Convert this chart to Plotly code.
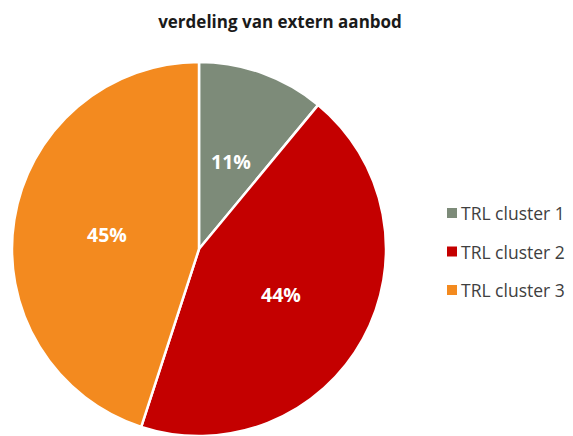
import math
import plotly.graph_objects as go

# Share of external supply per TRL cluster
categories = ["TRL cluster 1", "TRL cluster 2", "TRL cluster 3"]
shares = [11, 44, 45]
colors = ["#7d8b79", "#c40000", "#f38a1f"]

title_text = "verdeling van extern aanbod"
font_family = "Open Sans, Lato, sans-serif"

W, H = 573, 436
pie_left, pie_right, pie_top = 12, 386, 62

fig = go.Figure(
    go.Pie(
        labels=categories,
        values=shares,
        sort=False,
        direction="clockwise",
        rotation=0,
        marker=dict(colors=colors, line=dict(color="white", width=2.5)),
        textinfo="none",
        domain=dict(x=[pie_left / W, pie_right / W], y=[0, (H - pie_top) / H]),
        showlegend=False,
        hoverinfo="label+percent",
    )
)

# Percentage labels placed halfway along each slice's mid-angle
cx = (pie_left + pie_right) / 2
radius = (pie_right - pie_left) / 2
cy = pie_top + radius
total = sum(shares)
start = 0.0
for v in shares:
    mid = (start + v / 2) / total * 2 * math.pi
    start += v
    px = cx + 0.5 * radius * math.sin(mid)
    py = cy - 0.5 * radius * math.cos(mid)
    fig.add_annotation(
        x=px / W, y=1 - py / H, xref="paper", yref="paper",
        text=f"{v}%", showarrow=False, xanchor="center", yanchor="middle",
        font=dict(family=font_family, size=19.5, color="white", weight="bold"),
    )

# Legend drawn as square swatches with text labels
legend_x = 447 / W
legend_top = 213
legend_step = 38.5
sw = 10
for i, (name, col) in enumerate(zip(categories, colors)):
    yc = legend_top + i * legend_step
    fig.add_shape(
        type="rect", xref="paper", yref="paper",
        x0=legend_x, x1=legend_x + sw / W,
        y0=1 - (yc + sw / 2) / H, y1=1 - (yc - sw / 2) / H,
        fillcolor=col, line=dict(width=0),
    )
    fig.add_annotation(
        x=legend_x + (sw + 2) / W, y=1 - yc / H, xref="paper", yref="paper",
        text=name, showarrow=False, xanchor="left", yanchor="middle",
        font=dict(family=font_family, size=17.5, color="#404040"),
    )

fig.update_layout(
    width=W, height=H,
    margin=dict(l=0, r=0, t=0, b=0),
    paper_bgcolor="white",
    plot_bgcolor="white",
    title=dict(
        text=title_text, x=280 / W, xanchor="center", y=1 - 22 / H, yanchor="middle",
        font=dict(family=font_family, size=17, color="#1a1a1a", weight="bold"),
    ),
)

fig.write_html("out.html")
